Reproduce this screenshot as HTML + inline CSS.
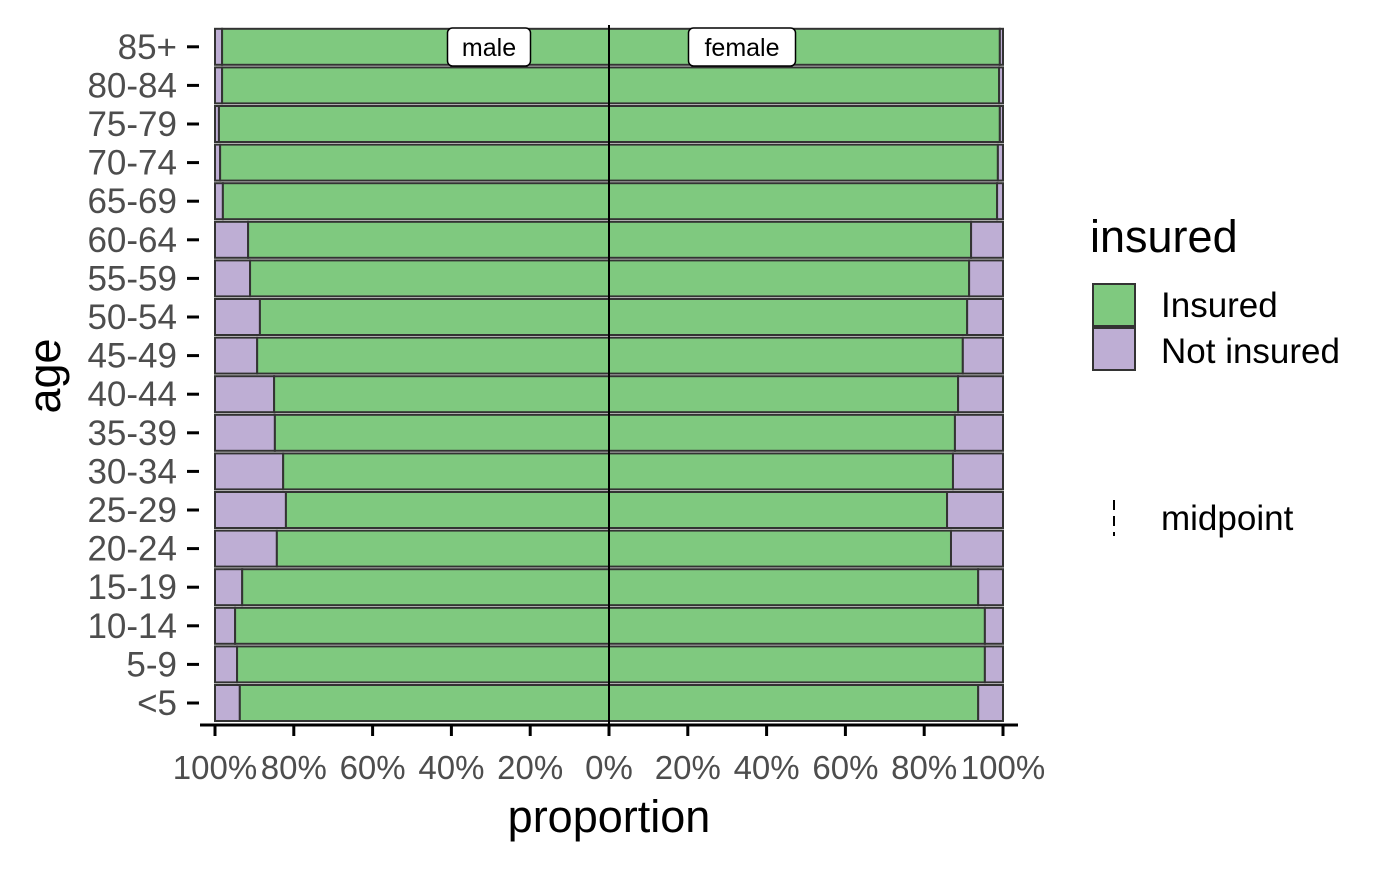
<!DOCTYPE html>
<html><head><meta charset="utf-8"><style>
body{margin:0;background:#fff;}
svg text{font-family:"Liberation Sans",Arial,sans-serif;}
</style></head><body>
<svg id="chart" width="1400" height="866" xmlns="http://www.w3.org/2000/svg">
<g id="bars"></g>
<g id="axes"></g>
<text x="609" y="832" font-size="45" text-anchor="middle" fill="#000">proportion</text>
<text transform="translate(60,376) rotate(-90)" font-size="45" text-anchor="middle" fill="#000">age</text>
<g>
<text x="1090" y="252" font-size="45" fill="#000">insured</text>
<g>
<rect x="1093" y="284" width="42" height="42" fill="#7FC97F" stroke="#333" stroke-width="2"/>
<text x="1161" y="317" font-size="35" fill="#000">Insured</text></g>
<g>
<rect x="1093" y="328" width="42" height="42" fill="#BEAED4" stroke="#333" stroke-width="2"/>
<text x="1161" y="363" font-size="35" fill="#000">Not insured</text></g>
<g>
<line x1="1114" y1="500" x2="1114" y2="536" stroke="#000" stroke-width="2" stroke-dasharray="10,6"/>
<text x="1161" y="530" font-size="35" fill="#000">midpoint</text></g>
</g>
</svg>
<script>
const ages = ["<5","5-9","10-14","15-19","20-24","25-29","30-34","35-39","40-44","45-49","50-54","55-59","60-64","65-69","70-74","75-79","80-84","85+"];
const maleNotInsured = [6.3,5.6,5.1,6.9,15.7,18.0,17.3,15.2,15.0,10.7,11.4,8.9,8.4,2.0,1.3,1.0,1.8,1.8];
const femaleNotInsured = [6.3,4.6,4.6,6.3,13.2,14.2,12.7,12.2,11.4,10.2,9.1,8.6,8.1,1.5,1.3,0.8,1.0,0.8];
const xTicks = [-100,-80,-60,-40,-20,0,20,40,60,80,100];

const NS="http://www.w3.org/2000/svg";
const x0=609, pxPer=3.94;
function xs(v){return x0+v*pxPer;}
function yc(i){return 703-i*38.6;}
const bh=36;
function mk(tag,attrs,parent){const e=document.createElementNS(NS,tag);for(const k in attrs)e.setAttribute(k,attrs[k]);parent.appendChild(e);return e;}
const bars=document.getElementById('bars'), axes=document.getElementById('axes');
ages.forEach((a,i)=>{
  const y=yc(i)-bh/2;
  const m=maleNotInsured[i], f=femaleNotInsured[i];
  let r;
  r=mk('rect',{x:xs(-100),y:y,width:m*pxPer,height:bh,fill:'#BEAED4',stroke:'#333','stroke-width':2},bars);
  
  
  r=mk('rect',{x:xs(-(100-m)),y:y,width:(100-m)*pxPer,height:bh,fill:'#7FC97F',stroke:'#333','stroke-width':2},bars);
  
  
  r=mk('rect',{x:xs(0),y:y,width:(100-f)*pxPer,height:bh,fill:'#7FC97F',stroke:'#333','stroke-width':2},bars);
  
  
  r=mk('rect',{x:xs(100-f),y:y,width:f*pxPer,height:bh,fill:'#BEAED4',stroke:'#333','stroke-width':2},bars);
  
  
  const t=mk('text',{x:177,y:yc(i)+12,'font-size':35,'text-anchor':'end',fill:'#4d4d4d'},axes);
  t.textContent=a;
  
  
  const tk=mk('line',{x1:187,x2:199,y1:yc(i),y2:yc(i),stroke:'#000','stroke-width':3},axes);
  
  
});
let ml=mk('line',{x1:x0,x2:x0,y1:25,y2:725,stroke:'#000','stroke-width':2},axes);


let ax=mk('line',{x1:200,x2:1018,y1:725,y2:725,stroke:'#000','stroke-width':3},axes);


xTicks.forEach(v=>{
  const l=mk('line',{x1:xs(v),x2:xs(v),y1:725,y2:736,stroke:'#000','stroke-width':3},axes);
  
  
  const t=mk('text',{x:xs(v),y:779,'font-size':33,'text-anchor':'middle',fill:'#4d4d4d'},axes);
  t.textContent=Math.abs(v)+'%';
  
  
});
[["male",489,83],["female",742,107]].forEach(([s,cx,w])=>{
  const g=mk('g',{},axes);
  
  
  mk('rect',{x:cx-w/2,y:28,width:w,height:38,rx:5,fill:'#fff',stroke:'#000','stroke-width':1.5},g);
  const t=mk('text',{x:cx,y:56,'font-size':25,'text-anchor':'middle',fill:'#000'},g);
  t.textContent=s;
});
</script>
</body></html>
